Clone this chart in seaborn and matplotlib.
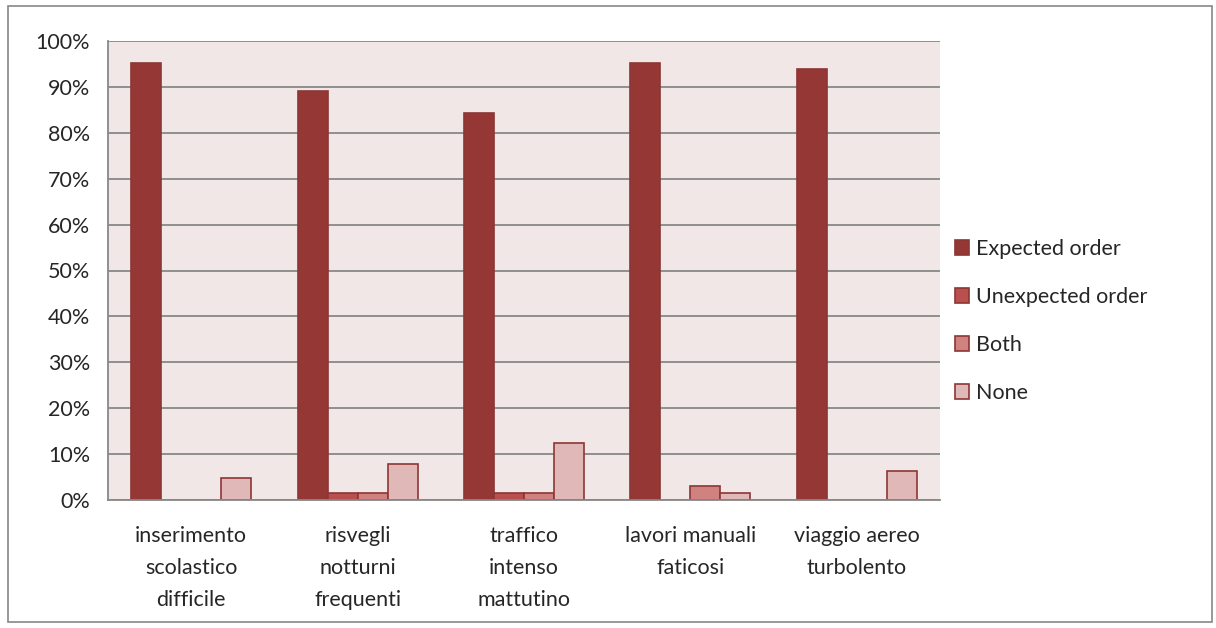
import pandas as pd
import matplotlib.pyplot as plt
import seaborn as sns
from matplotlib.patches import Rectangle

# data (share of 64 answers)
categories = ['inserimento\nscolastico\ndifficile', 'risvegli\nnotturni\nfrequenti',
              'traffico\nintenso\nmattutino', 'lavori manuali\nfaticosi',
              'viaggio aereo\nturbolento']
series = ['Expected order', 'Unexpected order', 'Both', 'None']
expected = [95.3, 89.1, 84.4, 95.3, 93.8]
unexpected = [0.0, 1.6, 1.6, 0.0, 0.0]
both = [0.0, 1.6, 1.6, 3.1, 0.0]
none = [4.7, 7.8, 12.5, 1.6, 6.3]

colors = ['#953735', '#B9504D', '#D08280', '#E0B8B8']
edge = '#8C3634'

df = pd.DataFrame({
    'Category': categories * 4,
    'Series': [s for s in series for _ in categories],
    'Value': expected + unexpected + both + none,
})

sns.set_style('white')
plt.rcParams['font.family'] = ['Lato', 'DejaVu Sans']

fig = plt.figure(figsize=(12.16, 6.28), dpi=100)
ax = fig.add_axes([108 / 1216, 1 - 500 / 628, 832 / 1216, 459 / 628])
ax.set_facecolor('#F2E7E7')

sns.barplot(data=df, x='Category', y='Value', hue='Series', palette=colors,
            saturation=1, width=0.72, edgecolor=edge, linewidth=1.2, ax=ax,
            legend=False)
for p in ax.patches:
    if p.get_height() == 0:
        p.set_visible(False)

ax.set_xlim(-0.5, 4.5)
ax.set_ylim(0, 100)
ax.set_yticks(range(0, 101, 10))
ax.set_yticklabels([f'{v}%' for v in range(0, 101, 10)], fontsize=15.5)
ax.yaxis.grid(True, color='#888888', linewidth=1.3)
ax.set_axisbelow(True)
ax.set_xticks(range(5))
ax.set_xticklabels(categories, fontsize=15.5, linespacing=1.75)
ax.set_xticks([i - 0.5 for i in range(6)], minor=True)
ax.tick_params(axis='x', which='major', length=0, pad=19)
ax.tick_params(axis='x', which='minor', length=9, color='#888888', width=1.3, direction='out')
ax.tick_params(axis='y', length=7, color='#888888', width=1.3, direction='out', pad=6)
ax.set_xlabel('')
ax.set_ylabel('')
for side in ['top', 'right']:
    ax.spines[side].set_visible(False)
for side in ['left', 'bottom']:
    ax.spines[side].set_color('#888888')
    ax.spines[side].set_linewidth(1.3)

handles = [Rectangle((0, 0), 1, 1, facecolor=c, edgecolor=edge, linewidth=1.2)
           for c in colors]
fig.legend(handles, series, loc='center left', bbox_to_anchor=(944 / 1216, 1 - 321 / 628),
           frameon=False, fontsize=15.5, labelspacing=1.3, handlelength=0.65,
           handleheight=0.65, handletextpad=0.35, borderpad=0)

fig.patches.append(Rectangle((8 / 1216, 6 / 628), 1204 / 1216, 616 / 628,
                             transform=fig.transFigure, fill=False,
                             edgecolor='#888888', linewidth=1.2))

fig.savefig('out.png', dpi=100)
